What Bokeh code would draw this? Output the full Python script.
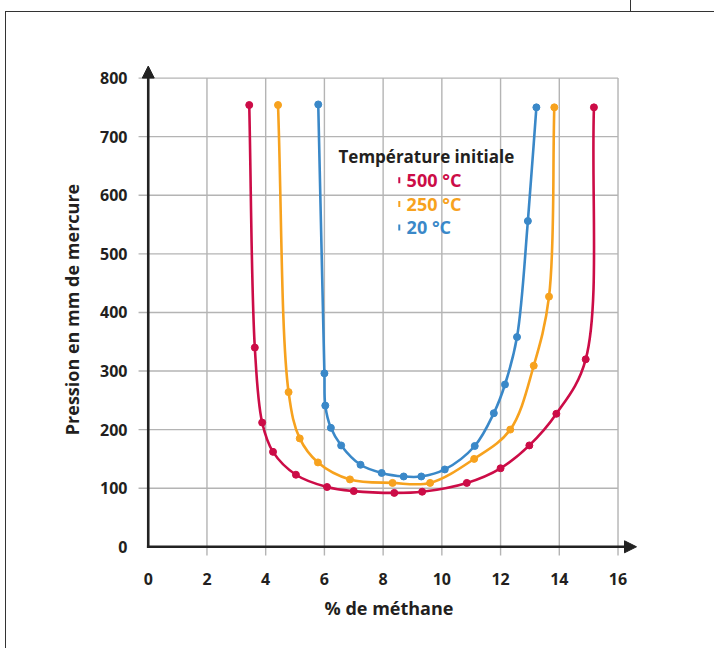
import numpy as np
from bokeh.plotting import figure
from bokeh.models import Arrow, NormalHead, FixedTicker, Label, Range1d, InlineStyleSheet
from bokeh.embed import file_html
from bokeh.resources import INLINE

# ---------------- data ----------------
x_ticks = [0, 2, 4, 6, 8, 10, 12, 14, 16]
y_ticks = [0, 100, 200, 300, 400, 500, 600, 700, 800]

x_label = "% de méthane"
y_label = "Pression en mm de mercure"
legend_title = "Température initiale"
series_names = ["500 °C", "250 °C", "20 °C"]
series_colors = ["#cc0c47", "#f7a21e", "#3a88c8"]

red_x = [3.44, 3.63, 3.88, 4.25, 5.03, 6.09, 7.0, 8.38, 9.33, 10.85, 12.0, 12.98, 13.9, 14.9, 15.18]
red_y = [754, 340, 212, 162, 123, 102, 95, 92, 94, 109, 134, 173, 227, 320, 750]

orange_x = [4.42, 4.78, 5.16, 5.78, 6.87, 8.32, 9.6, 11.1, 12.33, 13.13, 13.65, 13.83]
orange_y = [754, 264, 185, 144, 115, 109, 109, 150, 200, 309, 427, 750]

blue_x = [5.79, 6.0, 6.03, 6.22, 6.57, 7.23, 7.95, 8.7, 9.3, 10.1, 11.12, 11.77, 12.15, 12.56, 12.93, 13.22]
blue_y = [755, 296, 241, 203, 173, 140, 126, 120, 120, 132, 172, 228, 277, 358, 556, 750]

series = [(red_x, red_y), (orange_x, orange_y), (blue_x, blue_y)]

FONT = "Open Sans"
TEXT = "#231f20"
GRID = "#b4b4b4"

X0, X1 = -0.4, 16.8
Y0, Y1 = -20, 830
W, H = 714, 648
BL, BR, BT, BB = 136, 73, 60, 90
SX = (W - BL - BR) / (X1 - X0)   # pixels per x unit (for smoothing metric)
SY = (H - BT - BB) / (Y1 - Y0)   # pixels per y unit


def bezier_segments(xs, ys, alpha=0.5):
    """Centripetal Catmull-Rom smoothing through the points, as cubic Bezier segments."""
    P = np.column_stack([np.asarray(xs, float) * SX, np.asarray(ys, float) * SY])
    n = len(P)
    E = np.vstack([2 * P[0] - P[1], P, 2 * P[-1] - P[-2]])
    out = {k: [] for k in ("x0", "y0", "x1", "y1", "cx0", "cy0", "cx1", "cy1")}
    for i in range(1, n):
        p0, p1, p2, p3 = E[i - 1], E[i], E[i + 1], E[i + 2]
        d0 = np.linalg.norm(p1 - p0) ** alpha
        d1 = np.linalg.norm(p2 - p1) ** alpha
        d2 = np.linalg.norm(p3 - p2) ** alpha
        m1 = ((p1 - p0) / d0 - (p2 - p0) / (d0 + d1) + (p2 - p1) / d1) * d1
        m2 = ((p2 - p1) / d1 - (p3 - p1) / (d1 + d2) + (p3 - p2) / d2) * d1
        c1 = p1 + m1 / 3.0
        c2 = p2 - m2 / 3.0
        for key, pt in (("0", p1), ("1", p2)):
            out["x" + key].append(pt[0] / SX)
            out["y" + key].append(pt[1] / SY)
        out["cx0"].append(c1[0] / SX); out["cy0"].append(c1[1] / SY)
        out["cx1"].append(c2[0] / SX); out["cy1"].append(c2[1] / SY)
    return out


p = figure(width=W, height=H, output_backend="svg", toolbar_location=None,
           x_range=Range1d(X0, X1), y_range=Range1d(Y0, Y1),
           min_border_left=BL, min_border_right=BR, min_border_top=BT, min_border_bottom=BB)
p.outline_line_color = None
p.background_fill_color = "white"
p.border_fill_color = "white"
p.xgrid.visible = False
p.ygrid.visible = False

# outer frame drawn around the figure (page decoration)
p.stylesheets = [InlineStyleSheet(css="""
:host { overflow: visible; }
:host::before { content: ""; position: absolute; left: 5px; top: 11px; width: 709px; height: 637px;
  border-left: 1.3px solid #333; border-top: 1.3px solid #333; box-sizing: border-box;
  pointer-events: none; z-index: 5; }
:host::after { content: ""; position: absolute; left: 630px; top: 0px; width: 0px; height: 11px;
  border-left: 1.3px solid #333; pointer-events: none; z-index: 5; }
""")]

# grid lines
p.segment(x0=[-0.33] * (len(y_ticks) - 1), x1=[x_ticks[-1]] * (len(y_ticks) - 1),
          y0=y_ticks[1:], y1=y_ticks[1:], line_color=GRID, line_width=1.4)
p.segment(x0=x_ticks[1:], x1=x_ticks[1:], y0=[-15] * (len(x_ticks) - 1),
          y1=[y_ticks[-1]] * (len(x_ticks) - 1), line_color=GRID, line_width=1.4)

# axes lines with arrow heads
p.add_layout(Arrow(end=NormalHead(size=12, fill_color="#222222", line_color="#222222"),
                   x_start=0, y_start=-2.2, x_end=0, y_end=820.5,
                   line_color="#222222", line_width=2.6))
p.add_layout(Arrow(end=NormalHead(size=12, fill_color="#222222", line_color="#222222"),
                   x_start=-0.045, y_start=0, x_end=16.63, y_end=0,
                   line_color="#222222", line_width=2.6))

# curves and points
for (xs, ys), col in zip(series, series_colors):
    b = bezier_segments(xs, ys)
    p.bezier(x0=b["x0"], y0=b["y0"], x1=b["x1"], y1=b["y1"],
             cx0=b["cx0"], cy0=b["cy0"], cx1=b["cx1"], cy1=b["cy1"],
             line_color=col, line_width=2.6)
    p.scatter(xs, ys, size=7, fill_color=col, line_color=col, marker="circle")

# legend
p.add_layout(Label(x=6.48, y=666, text=legend_title, text_font=FONT, text_font_style="bold",
                   text_font_size="17px", text_color=TEXT, text_baseline="middle", text_align="left"))
leg_y = [625.5, 585.0, 545.0]
for name, col, ly in zip(series_names, series_colors, leg_y):
    p.scatter([8.55], [ly], marker="dash", angle=np.pi / 2, size=6, line_color=col, line_width=2)
    p.add_layout(Label(x=8.8, y=ly, text=name, text_font=FONT, text_font_style="bold",
                       text_font_size="18px", text_color=col, text_baseline="middle", text_align="left"))

# axis styling
for ax, ticks in ((p.xaxis[0], x_ticks), (p.yaxis[0], y_ticks)):
    ax.ticker = FixedTicker(ticks=ticks)
    ax.axis_line_color = None
    ax.major_tick_line_color = None
    ax.minor_tick_line_color = None
    ax.major_label_text_font = FONT
    ax.major_label_text_font_style = "bold"
    ax.major_label_text_font_size = "16px"
    ax.major_label_text_color = TEXT
    ax.axis_label_text_font = FONT
    ax.axis_label_text_font_style = "bold"
    ax.axis_label_text_font_size = "18px"
    ax.axis_label_text_color = TEXT

p.xaxis.axis_label = x_label
p.yaxis.axis_label = y_label
p.xaxis.major_label_standoff = 8
p.xaxis.axis_label_standoff = 8
p.yaxis.major_label_standoff = 3
p.yaxis.axis_label_standoff = 13

open("out.html", "w").write(file_html(p, INLINE))
